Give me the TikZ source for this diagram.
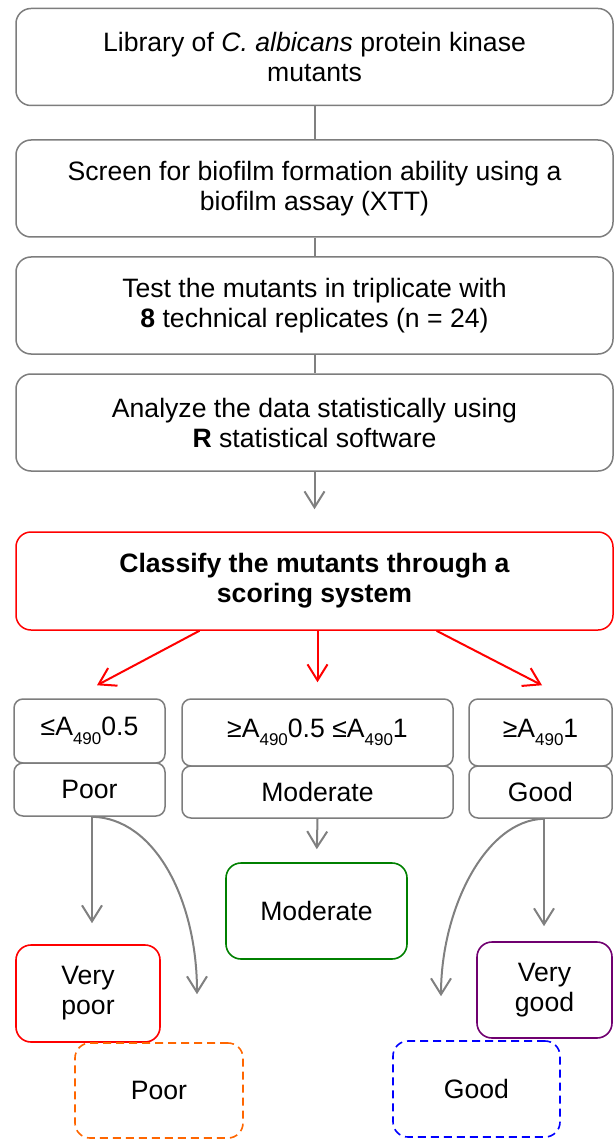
\documentclass[tikz,border=0pt]{standalone}
\usepackage{fontspec}
\setmainfont{Liberation Sans}
\usetikzlibrary{arrows.meta}
\definecolor{linegray}{RGB}{128,128,128}
\definecolor{boxgray}{RGB}{125,125,125}
\definecolor{okgreen}{RGB}{0,128,0}
\definecolor{vgpurple}{RGB}{112,0,112}
\definecolor{poororange}{RGB}{255,102,0}
\definecolor{goodblue}{RGB}{0,0,255}
\newcommand\absub[1]{\raisebox{-0.32em}{\fontsize{17}{17}\selectfont #1}}
\begin{document}
\begin{tikzpicture}[x=1pt,y=-1pt,
  every node/.style={font=\fontsize{26.6}{30}\selectfont, align=center, inner sep=0pt},
  stage/.style={draw=boxgray, line width=1.5pt, rounded corners=15pt, minimum width=597pt, minimum height=97pt},
  rangebox/.style={draw=boxgray, line width=1.5pt, rounded corners=9pt},
  result/.style={line width=1.6pt, rounded corners=15pt, minimum height=96pt},
  tip/.style={-{Straight Barb[length=16pt,width=20pt]}},
  grayline/.style={draw=linegray, line width=2pt},
  redline/.style={draw=red, line width=2pt}]
\useasboundingbox (0,0) rectangle (613,1139);

% workflow stages
\node[stage] (lib) at (314.5,57) {Library of \textit{C. albicans} protein kinase\\mutants};
\node[stage] (scr) at (314.5,188.5) {Screen for biofilm formation ability using a\\biofilm assay (XTT)};
\node[stage] (tst) at (314.5,305.5) {Test the mutants in triplicate with\\\textbf{8} technical replicates (n = 24)};
\node[stage] (ana) at (314.5,422.5) {Analyze the data statistically using\\\textbf{R} statistical software};
\node[stage, draw=red, minimum height=98pt] (cls) at (314.5,581) {\textbf{Classify the mutants through a}\\\textbf{scoring system}};

% score ranges and their categories
\node[rangebox, minimum width=151pt, minimum height=64pt] (lo) at (89.5,731) {≤A\absub{490}0.5};
\node[rangebox, minimum width=151pt, minimum height=53pt] (lp) at (89.5,789.5) {Poor};
\node[rangebox, minimum width=271pt, minimum height=67pt] (md) at (317.5,732.5) {≥A\absub{490}0.5 ≤A\absub{490}1};
\node[rangebox, minimum width=271pt, minimum height=52pt] (mp) at (317.5,792) {Moderate};
\node[rangebox, minimum width=143pt, minimum height=67pt] (hi) at (540.5,732.5) {≥A\absub{490}1};
\node[rangebox, minimum width=143pt, minimum height=52pt] (hp) at (540.5,792) {Good};

% final classes
\node[result, draw=okgreen, minimum width=181pt] (mod) at (316.5,911) {Moderate};
\node[result, draw=red, minimum width=144pt, minimum height=97pt] (vpr) at (88,993.5) {Very\\poor};
\node[result, draw=poororange, dash pattern=on 8pt off 5pt, minimum width=168pt, minimum height=95pt] (pdr) at (159,1090.5) {Poor};
\node[result, draw=vgpurple, minimum width=135pt] (vgd) at (544.5,990) {Very\\good};
\node[result, draw=goodblue, dash pattern=on 8pt off 5pt, minimum width=167pt] (gdd) at (476.5,1089) {Good};

% connectors between stages
\draw[grayline] (lib) -- (scr);
\draw[grayline] (scr) -- (tst);
\draw[grayline] (tst) -- (ana);
\draw[grayline, tip, shorten >=22pt] (ana) -- (cls);

% scoring branches
\draw[redline, tip] ([xshift=-115pt]cls.south) -- ([xshift=7.5pt,yshift=13pt]lo.north);
\draw[redline, tip, shorten >=16pt] (cls.south -| md.north) -- (md.north);
\draw[redline, tip] ([xshift=122pt]cls.south) -- ([xshift=1.5pt,yshift=13pt]hi.north);

% category outcomes
\draw[grayline, tip] ([xshift=2.5pt]lp.south) -- ([xshift=4pt,yshift=21pt]vpr.north);
\draw[grayline, tip] ([xshift=2.5pt]lp.south) .. controls (155,818) and (197,900) .. ([xshift=38pt,yshift=48pt]pdr.north);
\draw[grayline, tip, shorten >=13pt] (mp.south) -- (mod.north);
\draw[grayline, tip] ([xshift=3.5pt]hp.south) -- ([xshift=-0.5pt,yshift=15pt]vgd.north);
\draw[grayline, tip] ([xshift=3.5pt]hp.south) .. controls (485,820) and (441,910) .. ([xshift=-35.5pt,yshift=44pt]gdd.north);
\end{tikzpicture}
\end{document}
